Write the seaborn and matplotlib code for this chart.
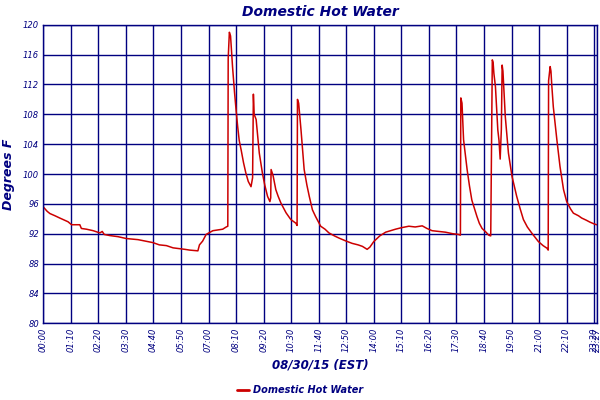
import seaborn as sns
from matplotlib import pyplot as plt

# minutes after midnight on 08/30/15, and water temperature in deg F
minutes = [0, 10, 17, 30, 42, 55, 63, 72, 93, 97, 110, 127, 144, 150, 155, 169, 190, 211, 241, 260,
           279, 295, 313, 330, 346, 360, 372, 393, 397, 405, 414, 431, 456, 465, 469, 470, 473, 476, 481, 486,
           490, 494, 498, 503, 509, 515, 521, 528, 532, 534, 536, 541, 545, 549, 557, 563, 570, 576, 578, 579,
           584, 591, 597, 604, 617, 629, 642, 645, 646, 649, 655, 663, 670, 676, 684, 692, 705, 716, 726, 740,
           752, 770, 785, 800, 811, 823, 830, 840, 855, 870, 895, 910, 929, 945, 963, 975, 988, 1005, 1022, 1040,
           1055, 1060, 1061, 1064, 1068, 1077, 1083, 1089, 1095, 1102, 1108, 1115, 1125, 1132, 1137, 1139, 1141, 1143, 1145, 1149,
           1155, 1158, 1161, 1164, 1166, 1168, 1174, 1182, 1191, 1203, 1212, 1220, 1230, 1241, 1250, 1258, 1270, 1280, 1283, 1284,
           1288, 1290, 1292, 1296, 1305, 1313, 1322, 1330, 1340, 1347, 1360, 1368, 1380, 1389, 1400, 1406]
temps = [95.6, 95.0, 94.7, 94.4, 94.1, 93.8, 93.6, 93.2, 93.2, 92.7, 92.6, 92.4, 92.1, 92.3, 91.9, 91.75, 91.6, 91.35, 91.2, 91.0,
         90.8, 90.5, 90.4, 90.1, 90.0, 89.9, 89.8, 89.7, 90.5, 91.0, 91.9, 92.4, 92.6, 92.9, 93.0, 115.5, 119.0, 118.5, 114.4, 111.0,
         108.6, 106.4, 104.5, 103.2, 101.5, 100.1, 99.0, 98.3, 99.5, 110.7, 108.0, 107.3, 105.0, 102.8, 100.1, 98.5, 97.0, 96.3, 96.8, 100.6,
         99.8, 97.9, 97.0, 96.1, 94.8, 93.9, 93.4, 93.1, 110.0, 109.5, 105.9, 100.6, 98.5, 97.0, 95.2, 94.3, 93.0, 92.6, 92.1, 91.7,
         91.4, 91.0, 90.7, 90.5, 90.3, 89.9, 90.2, 90.95, 91.7, 92.2, 92.6, 92.8, 93.0, 92.9, 93.05, 92.7, 92.4, 92.3, 92.2, 92.0,
         91.9, 91.8, 110.2, 109.5, 104.6, 100.6, 98.4, 96.5, 95.5, 94.3, 93.4, 92.7, 92.2, 91.8, 91.7, 103.0, 115.3, 115.0, 113.5, 111.7,
         105.9, 104.5, 102.0, 106.0, 114.6, 113.8, 107.7, 102.8, 99.7, 97.0, 95.3, 93.9, 92.9, 92.1, 91.5, 90.95, 90.4, 90.05, 89.8, 112.5,
         114.4, 113.8, 112.0, 109.0, 104.6, 101.0, 97.9, 96.3, 95.3, 94.75, 94.4, 94.1, 93.8, 93.55, 93.3, 93.2]

x_ticks = list(range(0, 1401, 70)) + [1407]
x_labels = ["%02d:%02d" % (t // 60, t % 60) for t in x_ticks]
y_ticks = list(range(80, 121, 4))

navy = "#000080"
red = "#CC0000"

sns.set_style("white")
plt.rcParams["font.family"] = ["DejaVu Sans"]

fig = plt.figure(figsize=(6, 4), dpi=100)
ax = fig.add_axes([0.072, 0.192, 0.923, 0.746])

sns.lineplot(x=minutes, y=temps, ax=ax, color=red, linewidth=1.1, label="Domestic Hot Water")

ax.set_xlim(0, 1407)
ax.set_ylim(80, 120)
ax.set_xticks(x_ticks)
ax.set_xticklabels(x_labels, rotation=90, fontsize=6, style="italic", color=navy)
ax.set_yticks(y_ticks)
ax.set_yticklabels([str(v) for v in y_ticks], fontsize=6, style="italic", color=navy)
ax.tick_params(length=0, pad=3)
ax.grid(True, color=navy, linewidth=1.0)
for s in ax.spines.values():
    s.set_color(navy)
    s.set_linewidth(1.0)

ax.set_title("Domestic Hot Water", fontsize=10, fontweight="bold", style="italic", color=navy, pad=6)
ax.set_xlabel("08/30/15 (EST)", fontsize=8.5, fontweight="bold", style="italic", color=navy, labelpad=5)
ax.set_ylabel("Degrees F", fontsize=9, fontweight="bold", style="italic", color=navy, labelpad=6)

leg = ax.legend(loc="center", bbox_to_anchor=(0.5, 0.025), bbox_transform=fig.transFigure,
                frameon=False, handlelength=1.2, handletextpad=0.4,
                prop={"size": 7, "weight": "bold", "style": "italic"})
for t in leg.get_texts():
    t.set_color(navy)
for h in leg.get_lines():
    h.set_linewidth(2)

fig.savefig("out.png", dpi=100)
